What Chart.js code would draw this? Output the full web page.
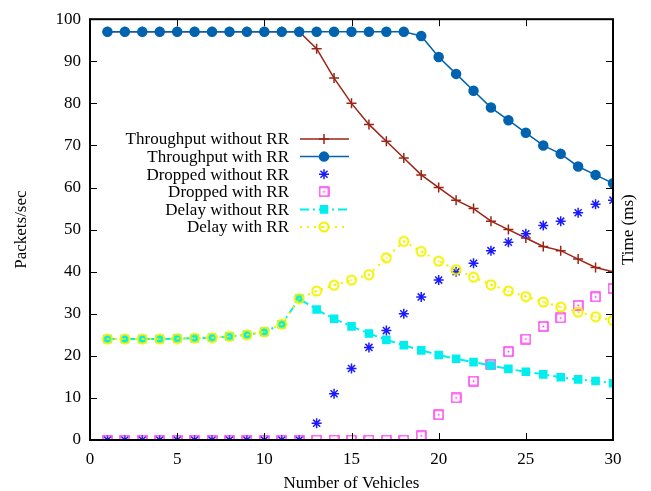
<!DOCTYPE html>
<html lang="en">
<head>
  <meta charset="UTF-8" />
  <title>Packets/sec vs Number of Vehicles</title>
  <style>
    body { margin: 0; background: #fff; }
    #wrap { width: 651px; height: 491px; }
  </style>
</head>
<body>
  <div id="wrap"><canvas id="grafico" width="651" height="491"></canvas></div>

  <script src="https://cdn.jsdelivr.net/npm/chart.js@4"></script>
  <script>
    const vehicles = [1,2,3,4,5,6,7,8,9,10,11,12,13,14,15,16,17,18,19,20,21,22,23,24,25,26,27,28,29,30];
    const xTicks = [0, 5, 10, 15, 20, 25, 30];
    const yTicks = [0, 10, 20, 30, 40, 50, 60, 70, 80, 90, 100];

    const throughputWithout = [97,97,97,97,97,97,97,97,97,97,97,97,93,86,80,75,71,67,63,60,57,55,52,50,48,46,45,43,41,40];
    const throughputWith    = [97,97,97,97,97,97,97,97,97,97,97,97,97,97,97,97,97,97,96,91,87,83,79,76,73,70,68,65,63,61];
    const droppedWithout    = [0,0,0,0,0,0,0,0,0,0,0,0,4,11,17,22,26,30,34,38,40,42,45,47,49,51,52,54,56,57];
    const droppedWith       = [0,0,0,0,0,0,0,0,0,0,0,0,0,0,0,0,0,0,1,6,10,14,18,21,24,27,29,32,34,36];
    const delayWithout      = [24,24,24,24,24.1,24.2,24.3,24.6,25,25.7,27.5,33.6,31,28.8,27,25.3,23.8,22.5,21.3,20.2,19.3,18.5,17.7,16.9,16.2,15.6,14.9,14.4,14,13.5];
    const delayWith         = [24,24,24,24,24.1,24.2,24.3,24.6,25,25.7,27.5,33.6,35.4,36.8,38,39.3,43.3,47.2,44.8,42.5,40.5,38.7,36.9,35.4,34.1,32.8,31.6,30.4,29.3,28.4];

    // open square / circle with a dot in the middle, like gnuplot
    function dotted(shape, color, size) {
      const c = document.createElement('canvas');
      c.width = size; c.height = size;
      const g = c.getContext('2d');
      g.strokeStyle = color; g.fillStyle = color;
      g.lineWidth = shape === 'circle' ? 2 : 1.3;
      const m = size / 2;
      if (shape === 'circle') {
        g.beginPath(); g.arc(m, m, m - 1.5, 0, Math.PI * 2); g.stroke();
      } else {
        g.strokeRect(1, 1, size - 2, size - 2);
      }
      g.fillRect(m - 0.8, m - 0.8, 1.6, 1.6);
      return c;
    }

    const serie = (label, data, cor, extra) => Object.assign({
      label, data: data.map((v, i) => ({ x: vehicles[i], y: v })),
      borderColor: cor, backgroundColor: cor, pointBorderColor: cor, pointBackgroundColor: cor,
      borderWidth: 1.5, pointRadius: 4.5, pointBorderWidth: 1.5, tension: 0
    }, extra);

    const datasets = [
      serie('Throughput without RR', throughputWithout, '#9b2414', { pointStyle: 'cross', pointRadius: 5 }),
      serie('Throughput with RR', throughputWith, '#0063b0', { pointStyle: 'circle', pointRadius: 4.5 }),
      serie('Dropped without RR', droppedWithout, '#1a1aff', { pointStyle: 'star', pointRadius: 5, showLine: false }),
      serie('Dropped with RR', droppedWith, '#ff22ee', { pointStyle: dotted('rect', '#ff22ee', 11), showLine: false }),
      serie('Delay without RR', delayWithout, '#00eeee', { pointStyle: 'rect', pointRadius: 5, borderWidth: 2, borderDash: [9, 4, 2, 4] }),
      serie('Delay with RR', delayWith, '#f2f200', { pointStyle: dotted('circle', '#f2f200', 12), borderWidth: 2, borderDash: [2, 5] })
    ];
    datasets.forEach((d, i) => d.order = datasets.length - i);

    const fonte = 'Liberation Serif';
    const tam = 17;

    const molduraPlugin = {
      id: 'moldura',
      afterDraw(chart) {
        const { ctx, chartArea: a, scales: { x, y } } = chart;
        ctx.save();
        ctx.strokeStyle = '#000';
        ctx.lineWidth = 1;
        ctx.beginPath();
        xTicks.forEach(t => {
          const px = Math.round(x.getPixelForValue(t)) + 0.5;
          ctx.moveTo(px, a.bottom); ctx.lineTo(px, a.bottom - 7);
          ctx.moveTo(px, a.top); ctx.lineTo(px, a.top + 7);
        });
        yTicks.forEach(t => {
          const py = Math.round(y.getPixelForValue(t)) + 0.5;
          ctx.moveTo(a.left, py); ctx.lineTo(a.left + 7, py);
          ctx.moveTo(a.right, py); ctx.lineTo(a.right - 7, py);
        });
        ctx.stroke();
        ctx.lineWidth = 2;
        ctx.strokeRect(a.left, a.top, a.right - a.left, a.bottom - a.top);

        // right axis title
        ctx.fillStyle = '#000';
        ctx.font = tam + 'px "' + fonte + '"';
        ctx.translate(629, (a.top + a.bottom) / 2);
        ctx.rotate(-Math.PI / 2);
        ctx.textAlign = 'center';
        ctx.textBaseline = 'middle';
        ctx.fillText('Time (ms)', 0, 0);
        ctx.restore();

        // legend, gnuplot style: text on the left, sample on the right
        ctx.save();
        ctx.font = tam + 'px "' + fonte + '"';
        ctx.textAlign = 'right';
        ctx.textBaseline = 'middle';
        chart.data.datasets.forEach((d, i) => {
          const ly = 139 + i * 17.6;
          ctx.fillStyle = '#000';
          ctx.fillText(d.label, 289, ly + 1);
          ctx.strokeStyle = d.borderColor;
          ctx.fillStyle = d.backgroundColor;
          if (d.showLine !== false) {
            ctx.lineWidth = d.borderWidth;
            ctx.setLineDash(d.borderDash || []);
            ctx.beginPath(); ctx.moveTo(300, ly); ctx.lineTo(349, ly); ctx.stroke();
            ctx.setLineDash([]);
          }
          ctx.lineWidth = d.pointBorderWidth;
          Chart.helpers.drawPoint(ctx, { pointStyle: d.pointStyle, radius: d.pointRadius, rotation: 0, borderWidth: d.pointBorderWidth }, 324, ly);
        });
        ctx.restore();
      }
    };

    new Chart(document.getElementById('grafico'), {
      type: 'line',
      data: { datasets },
      plugins: [molduraPlugin],
      options: {
        responsive: false,
        animation: false,
        layout: { padding: { top: 17, right: 38, left: 0, bottom: 0 } },
        plugins: { legend: { display: false }, tooltip: { enabled: false } },
        scales: {
          x: {
            type: 'linear', min: 0, max: 30,
            afterBuildTicks: s => { s.ticks = xTicks.map(v => ({ value: v })); },
            afterFit: s => { s.height = 51; },
            grid: { display: false, drawTicks: false },
            border: { display: false },
            ticks: { color: '#000', padding: 9, font: { family: fonte, size: tam } },
            title: { display: true, text: 'Number of Vehicles', color: '#000', padding: { top: 0, bottom: -3 }, font: { family: fonte, size: tam } }
          },
          y: {
            type: 'linear', min: 0, max: 100,
            afterBuildTicks: s => { s.ticks = yTicks.map(v => ({ value: v })); },
            afterFit: s => { s.width = 90; },
            grid: { display: false, drawTicks: false },
            border: { display: false },
            ticks: { color: '#000', padding: 9, font: { family: fonte, size: tam } },
            title: { display: true, text: 'Packets/sec', color: '#000', padding: { top: 11, bottom: 0 }, font: { family: fonte, size: tam } }
          }
        }
      }
    });
  </script>
</body>
</html>
